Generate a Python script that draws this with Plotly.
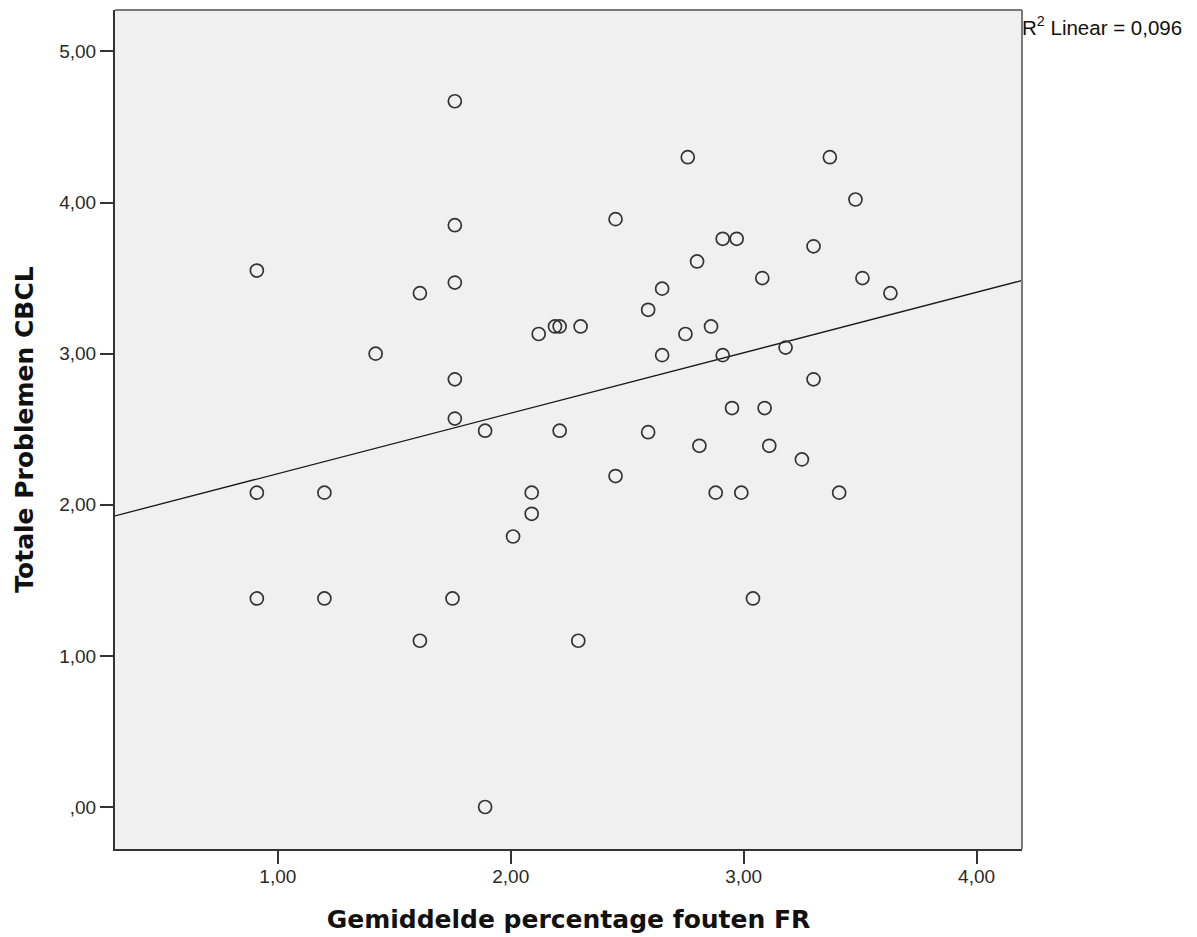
import plotly.graph_objects as go

# Data
fouten_fr = [0.91, 0.91, 0.91, 1.20, 1.20, 1.42, 1.61, 1.61, 1.76, 1.76,
             1.76, 1.76, 1.76, 1.75, 1.89, 1.89, 2.01, 2.09, 2.09, 2.12,
             2.19, 2.21, 2.30, 2.21, 2.29, 2.45, 2.45, 2.59, 2.59, 2.65,
             2.65, 2.76, 2.75, 2.80, 2.81, 2.86, 2.88, 2.91, 2.91, 2.97,
             2.95, 2.99, 3.04, 3.08, 3.09, 3.11, 3.18, 3.25, 3.30, 3.30,
             3.37, 3.41, 3.48, 3.51, 3.63]
problemen_cbcl = [3.55, 2.08, 1.38, 2.08, 1.38, 3.00, 3.40, 1.10, 4.67, 3.85,
                  3.47, 2.83, 2.57, 1.38, 0.00, 2.49, 1.79, 2.08, 1.94, 3.13,
                  3.18, 3.18, 3.18, 2.49, 1.10, 3.89, 2.19, 3.29, 2.48, 3.43,
                  2.99, 4.30, 3.13, 3.61, 2.39, 3.18, 2.08, 3.76, 2.99, 3.76,
                  2.64, 2.08, 1.38, 3.50, 2.64, 2.39, 3.04, 2.30, 3.71, 2.83,
                  4.30, 2.08, 4.02, 3.50, 3.40]

fit_intercept = 1.806
fit_slope = 0.400
r2_text = "R<sup>2</sup> Linear = 0,096"

x_tickvals = [1, 2, 3, 4]
x_ticktext = ["1,00", "2,00", "3,00", "4,00"]
y_tickvals = [0, 1, 2, 3, 4, 5]
y_ticktext = [",00", "1,00", "2,00", "3,00", "4,00", "5,00"]

x_range = [0.301, 4.195]
y_range = [-0.278, 5.274]

fit_x = x_range
fit_y = [fit_intercept + fit_slope * v for v in fit_x]

fig = go.Figure()
fig.add_trace(go.Scatter(
    x=fit_x, y=fit_y, mode="lines",
    line=dict(color="#1a1a1a", width=1.3),
    showlegend=False, hoverinfo="skip",
))
fig.add_trace(go.Scatter(
    x=fouten_fr, y=problemen_cbcl, mode="markers",
    marker=dict(symbol="circle-open", size=13, color="#333333",
                line=dict(width=1.7, color="#333333")),
    showlegend=False,
))

tick_font = dict(family="Liberation Sans, Arial, sans-serif", size=19, color="#2a2a2a")
title_font = dict(family="DejaVu Sans, Verdana, sans-serif", size=25, color="#111111")

fig.update_layout(
    width=1197, height=937,
    margin=dict(l=107, r=183, t=2, b=96),
    paper_bgcolor="white",
    plot_bgcolor="#F0F0F0",
    xaxis=dict(
        range=x_range, tickvals=x_tickvals, ticktext=x_ticktext,
        showgrid=False, zeroline=False,
        showline=True, linecolor="#333333", linewidth=2, mirror=False,
        ticks="outside", ticklen=13, tickwidth=2, tickcolor="#333333",
        tickfont=tick_font, ticklabelstandoff=-4,
        title=dict(text="<b>Gemiddelde percentage fouten FR</b>", font=title_font, standoff=25),
    ),
    yaxis=dict(
        range=y_range, tickvals=y_tickvals, ticktext=y_ticktext,
        showgrid=False, zeroline=False,
        showline=True, linecolor="#333333", linewidth=2, mirror=False,
        ticks="outside", ticklen=13, tickwidth=2, tickcolor="#333333",
        tickfont=tick_font,
        title=dict(text="<b>Totale Problemen CBCL</b>", font=title_font, standoff=18),
    ),
    shapes=[
        dict(type="line", xref="paper", yref="paper", x0=0, x1=1, y0=1, y1=1,
             line=dict(color="#7a7a7a", width=2)),
        dict(type="line", xref="paper", yref="paper", x0=1, x1=1, y0=0, y1=1,
             line=dict(color="#7a7a7a", width=2)),
    ],
    annotations=[dict(
        text=r2_text, xref="paper", yref="paper", x=1.0, y=1.0,
        xanchor="left", yanchor="top", showarrow=False,
        font=dict(family="Liberation Sans, Arial, sans-serif", size=20.5, color="#111111"),
        xshift=-2, yshift=-1,
    )],
)

fig.write_html("out.html")
